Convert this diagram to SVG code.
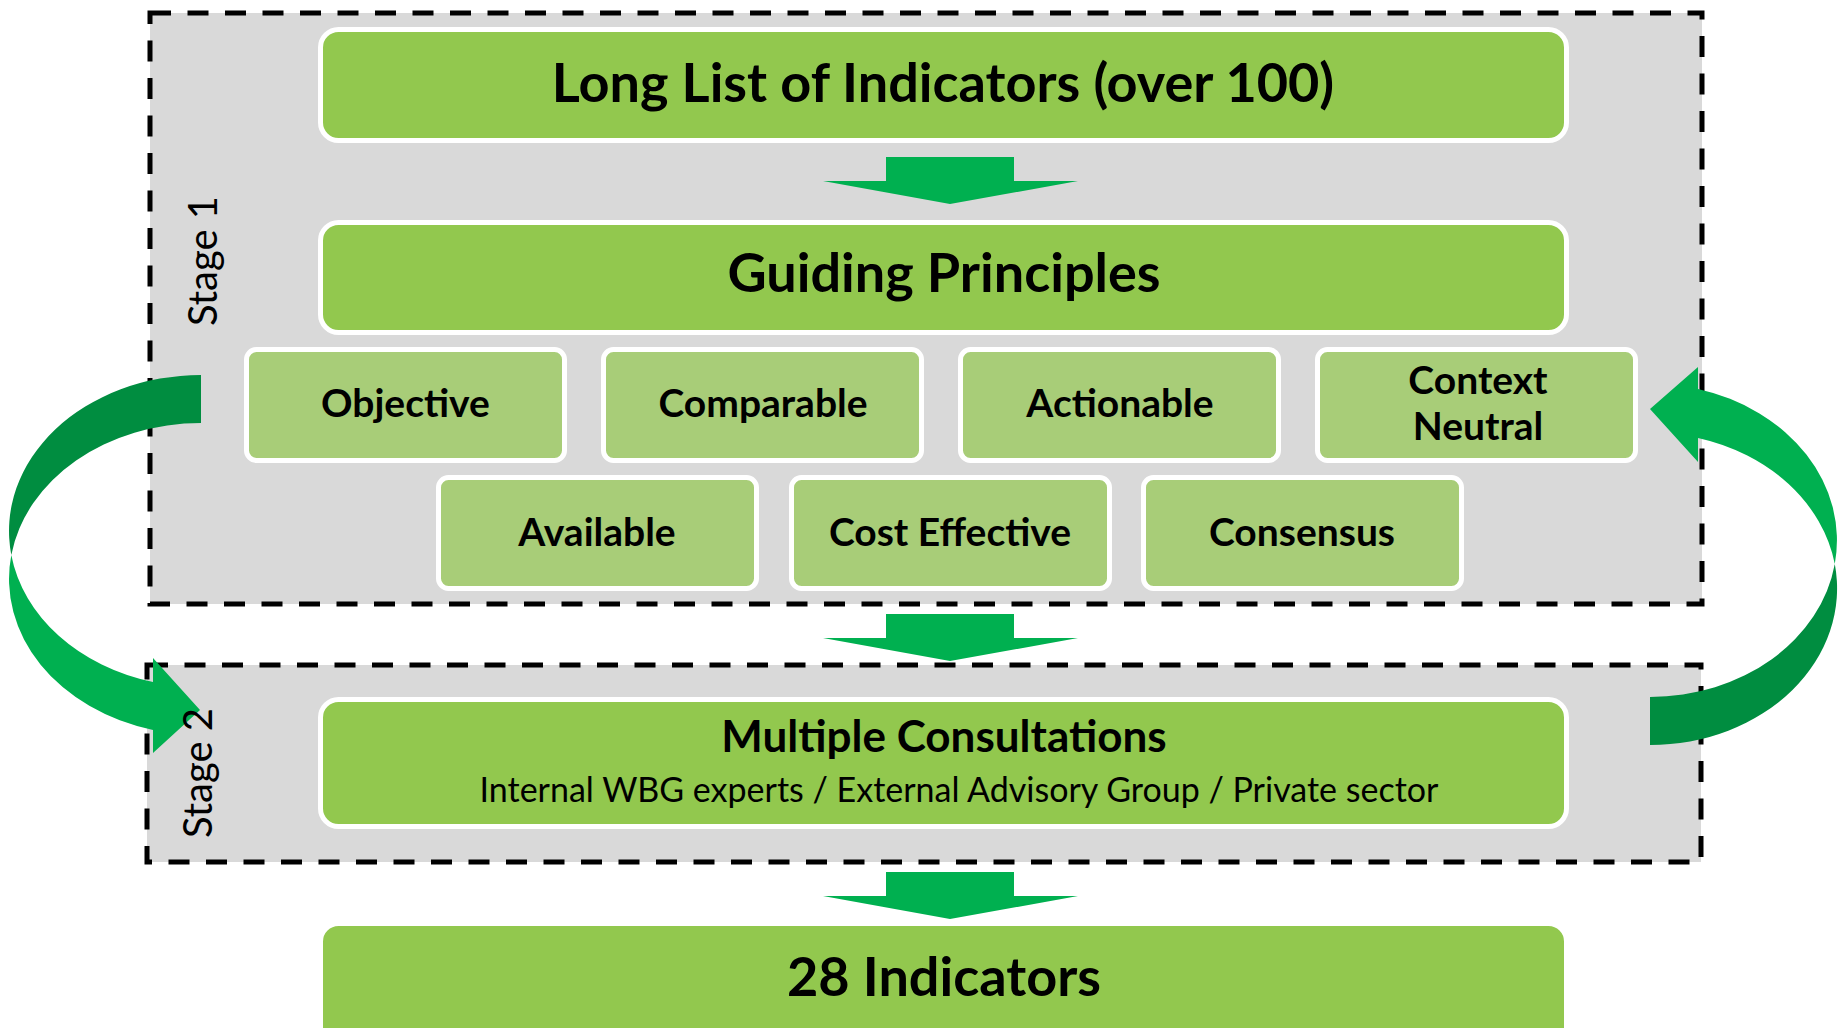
<svg xmlns="http://www.w3.org/2000/svg" width="1838" height="1028" viewBox="0 0 1838 1028">
  <defs>
    <style>
      .frame { fill: #d9d9d9; stroke: #000; stroke-width: 5; stroke-dasharray: 21 16.5; }
      .main { fill: #92c84e; stroke: #fff; stroke-width: 5; }
      .sub { fill: #a8cd78; stroke: #fff; stroke-width: 5; }
      .arrow { fill: #00b050; }
      .arrow-back { fill: #008d40; }
      .t { font-family: Lato, "Liberation Sans", sans-serif; fill: #000; text-anchor: middle; }
      .big { font-size: 54px; font-weight: 700; }
      .mid { font-size: 44px; font-weight: 700; }
      .small { font-size: 39px; font-weight: 700; }
      .note { font-size: 34px; font-weight: 400; }
      .stage { font-size: 40px; font-weight: 400; }
    </style>
  </defs>

  <rect width="1838" height="1028" fill="#fff"/>

  <!-- stage frames -->
  <g id="stage1-frame"><rect class="frame" x="150" y="13" width="1552" height="591"/></g>
  <g id="stage2-frame"><rect class="frame" x="147" y="665" width="1554" height="197"/></g>

  <!-- boxes -->
  <g id="long-list">
    <rect class="main" x="320.5" y="29.5" width="1246" height="111" rx="18"/>
    <text class="t big" x="943" y="102">Long List of Indicators (over 100)</text>
  </g>
  <g id="guiding-principles">
    <rect class="main" x="320.5" y="222.5" width="1246" height="110" rx="18"/>
    <text class="t big" x="944" y="292">Guiding Principles</text>
  </g>
  <g id="objective">
    <rect class="sub" x="246.5" y="349.5" width="318" height="111" rx="10"/>
    <text class="t small" x="405.5" y="417">Objective</text>
  </g>
  <g id="comparable">
    <rect class="sub" x="603.5" y="349.5" width="318" height="111" rx="10"/>
    <text class="t small" x="763" y="417">Comparable</text>
  </g>
  <g id="actionable">
    <rect class="sub" x="960.5" y="349.5" width="318" height="111" rx="10"/>
    <text class="t small" x="1120" y="417">Actionable</text>
  </g>
  <g id="context-neutral">
    <rect class="sub" x="1317.5" y="349.5" width="318" height="111" rx="10"/>
    <text class="t small" x="1478" y="394">Context</text>
    <text class="t small" x="1478" y="440">Neutral</text>
  </g>
  <g id="available">
    <rect class="sub" x="438.5" y="477.5" width="318" height="111" rx="10"/>
    <text class="t small" x="597" y="546">Available</text>
  </g>
  <g id="cost-effective">
    <rect class="sub" x="791.5" y="477.5" width="318" height="111" rx="10"/>
    <text class="t small" x="950" y="546">Cost Effective</text>
  </g>
  <g id="consensus">
    <rect class="sub" x="1143.5" y="477.5" width="318" height="111" rx="10"/>
    <text class="t small" x="1302" y="546">Consensus</text>
  </g>
  <g id="multiple-consultations">
    <rect class="main" x="320.5" y="699.5" width="1246" height="127" rx="18"/>
    <text class="t mid" x="944" y="752">Multiple Consultations</text>
    <text class="t note" x="959" y="802">Internal WBG experts / External Advisory Group / Private sector</text>
  </g>
  <g id="indicators-28">
    <rect class="main" x="320.5" y="923.5" width="1246" height="140" rx="18"/>
    <text class="t big" x="944" y="996">28 Indicators</text>
  </g>

  <!-- connectors -->
  <g id="connectors">
    <polygon class="arrow" points="886,157 1014,157 1014,181 1078,181 950,204 823,181 886,181"/>
    <polygon class="arrow" points="886,614 1014,614 1014,638 1078,638 950,661 823,638 886,638"/>
    <polygon class="arrow" points="886,872 1014,872 1014,896 1078,896 950,919 823,896 886,896"/>

    <!-- loop back from stage 1 down into stage 2 -->
    <path class="arrow-back" d="M201,375 A192,156 0 0 0 11.3,555 A192,156 0 0 1 201,423 Z"/>
    <path class="arrow" d="M11.3,555 A192,156 0 0 0 153,730 L153,753 L200,710 L153,658 L153,682 A192,156 0 0 1 11.3,555 Z"/>

    <!-- loop back from stage 2 up into stage 1 -->
    <path class="arrow-back" d="M1834.8,564 A187,156.6 0 0 1 1650,745 L1650,697 A187,156.6 0 0 0 1834.8,564 Z"/>
    <path class="arrow" d="M1834.8,564 A187,156.6 0 0 0 1698,389 L1698,367 L1650,409 L1698,462 L1698,438 A187,156.6 0 0 1 1834.8,564 Z"/>
  </g>

  <!-- stage labels -->
  <g id="stage-labels">
    <text class="t stage" transform="translate(217,261) rotate(-90)">Stage 1</text>
    <text class="t stage" transform="translate(212,773) rotate(-90)">Stage 2</text>
  </g>
</svg>
